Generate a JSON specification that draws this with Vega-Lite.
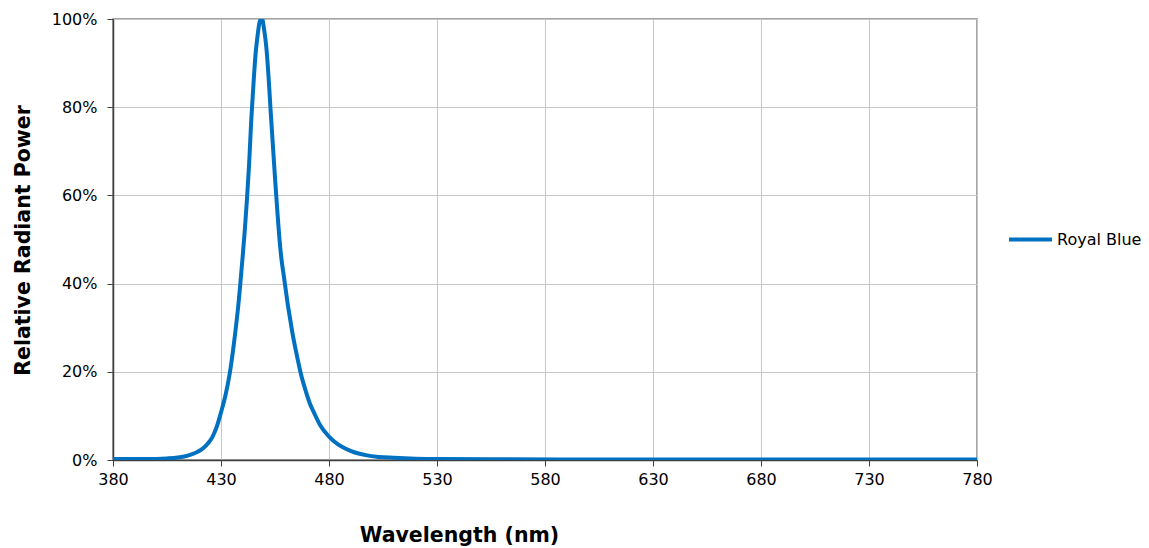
{
  "$schema": "https://vega.github.io/schema/vega-lite/v6.json",
  "width": 864,
  "height": 441,
  "autosize": "none",
  "padding": {"left": 113, "top": 19, "right": 172, "bottom": 88},
  "background": "white",
  "config": {
    "font": "DejaVu Sans",
    "view": {"stroke": "#868686", "strokeWidth": 1.5}
  },
  "data": {
    "values": [
      {"wl": 380, "p": 0.2, "series": "Royal Blue"},
      {"wl": 390, "p": 0.2, "series": "Royal Blue"},
      {"wl": 400, "p": 0.25, "series": "Royal Blue"},
      {"wl": 405, "p": 0.35, "series": "Royal Blue"},
      {"wl": 410, "p": 0.55, "series": "Royal Blue"},
      {"wl": 413, "p": 0.8, "series": "Royal Blue"},
      {"wl": 416, "p": 1.2, "series": "Royal Blue"},
      {"wl": 419, "p": 1.8, "series": "Royal Blue"},
      {"wl": 422, "p": 2.8, "series": "Royal Blue"},
      {"wl": 424, "p": 3.8, "series": "Royal Blue"},
      {"wl": 426, "p": 5.2, "series": "Royal Blue"},
      {"wl": 428, "p": 7.5, "series": "Royal Blue"},
      {"wl": 430, "p": 10.8, "series": "Royal Blue"},
      {"wl": 432, "p": 14.5, "series": "Royal Blue"},
      {"wl": 434, "p": 19.5, "series": "Royal Blue"},
      {"wl": 436, "p": 26.5, "series": "Royal Blue"},
      {"wl": 438, "p": 35, "series": "Royal Blue"},
      {"wl": 440, "p": 46, "series": "Royal Blue"},
      {"wl": 441, "p": 52, "series": "Royal Blue"},
      {"wl": 442, "p": 59, "series": "Royal Blue"},
      {"wl": 443, "p": 67, "series": "Royal Blue"},
      {"wl": 444, "p": 77, "series": "Royal Blue"},
      {"wl": 445, "p": 85, "series": "Royal Blue"},
      {"wl": 446, "p": 92, "series": "Royal Blue"},
      {"wl": 447, "p": 96.5, "series": "Royal Blue"},
      {"wl": 448, "p": 99.5, "series": "Royal Blue"},
      {"wl": 449, "p": 100, "series": "Royal Blue"},
      {"wl": 450, "p": 97.5, "series": "Royal Blue"},
      {"wl": 451, "p": 93.5, "series": "Royal Blue"},
      {"wl": 452, "p": 87, "series": "Royal Blue"},
      {"wl": 453, "p": 79, "series": "Royal Blue"},
      {"wl": 454, "p": 71.5, "series": "Royal Blue"},
      {"wl": 455, "p": 64, "series": "Royal Blue"},
      {"wl": 456, "p": 57, "series": "Royal Blue"},
      {"wl": 457, "p": 50.5, "series": "Royal Blue"},
      {"wl": 458, "p": 45.5, "series": "Royal Blue"},
      {"wl": 459, "p": 42, "series": "Royal Blue"},
      {"wl": 460, "p": 38.5, "series": "Royal Blue"},
      {"wl": 461, "p": 35, "series": "Royal Blue"},
      {"wl": 462, "p": 32, "series": "Royal Blue"},
      {"wl": 463, "p": 29, "series": "Royal Blue"},
      {"wl": 465, "p": 24, "series": "Royal Blue"},
      {"wl": 467, "p": 19.5, "series": "Royal Blue"},
      {"wl": 469, "p": 16, "series": "Royal Blue"},
      {"wl": 471, "p": 13, "series": "Royal Blue"},
      {"wl": 473, "p": 10.8, "series": "Royal Blue"},
      {"wl": 476, "p": 7.8, "series": "Royal Blue"},
      {"wl": 480, "p": 5.3, "series": "Royal Blue"},
      {"wl": 484, "p": 3.6, "series": "Royal Blue"},
      {"wl": 488, "p": 2.5, "series": "Royal Blue"},
      {"wl": 492, "p": 1.7, "series": "Royal Blue"},
      {"wl": 497, "p": 1.1, "series": "Royal Blue"},
      {"wl": 503, "p": 0.7, "series": "Royal Blue"},
      {"wl": 510, "p": 0.5, "series": "Royal Blue"},
      {"wl": 520, "p": 0.3, "series": "Royal Blue"},
      {"wl": 530, "p": 0.2, "series": "Royal Blue"},
      {"wl": 560, "p": 0.15, "series": "Royal Blue"},
      {"wl": 600, "p": 0.12, "series": "Royal Blue"},
      {"wl": 650, "p": 0.1, "series": "Royal Blue"},
      {"wl": 700, "p": 0.1, "series": "Royal Blue"},
      {"wl": 750, "p": 0.1, "series": "Royal Blue"},
      {"wl": 780, "p": 0.1, "series": "Royal Blue"}
    ]
  },
  "mark": {"type": "line", "strokeWidth": 4, "interpolate": "monotone", "clip": true},
  "encoding": {
    "x": {
      "field": "wl",
      "type": "quantitative",
      "scale": {"domain": [380, 780], "nice": false, "zero": false},
      "axis": {
        "values": [380, 430, 480, 530, 580, 630, 680, 730, 780],
        "title": "Wavelength (nm)",
        "titleFontSize": 20.5,
        "titleFontWeight": "bold",
        "titleColor": "black",
        "titleX": 346,
        "titleY": 81,
        "titleAlign": "center",
        "titleBaseline": "alphabetic",
        "labelFontSize": 16,
        "labelColor": "black",
        "labelPadding": 5,
        "labelFlush": false,
        "labelOverlap": false,
        "tickSize": 6,
        "tickColor": "#404040",
        "domainColor": "#404040",
        "domainWidth": 1.5,
        "gridColor": "#c6c6c6",
        "gridWidth": 1
      }
    },
    "y": {
      "field": "p",
      "type": "quantitative",
      "scale": {"domain": [0, 100], "nice": false},
      "axis": {
        "values": [0, 20, 40, 60, 80, 100],
        "labelExpr": "datum.value + '%'",
        "title": "Relative Radiant Power",
        "titleFontSize": 20.5,
        "titleFontWeight": "bold",
        "titleColor": "black",
        "titleAngle": -90,
        "titleX": -84,
        "titleY": 221,
        "titleAlign": "center",
        "titleBaseline": "alphabetic",
        "labelFontSize": 16,
        "labelColor": "black",
        "labelPadding": 10,
        "labelFlush": false,
        "labelOverlap": false,
        "tickSize": 6,
        "tickColor": "#404040",
        "domainColor": "#404040",
        "domainWidth": 1.5,
        "gridColor": "#c6c6c6",
        "gridWidth": 1
      }
    },
    "color": {
      "field": "series",
      "type": "nominal",
      "scale": {"range": ["#0070C0"]},
      "legend": {
        "title": null,
        "orient": "none",
        "legendX": 894,
        "legendY": 197,
        "symbolType": "stroke",
        "symbolSize": 1849,
        "symbolStrokeWidth": 4,
        "labelFontSize": 16,
        "labelColor": "black",
        "labelOffset": 3,
        "padding": 0
      }
    }
  }
}
